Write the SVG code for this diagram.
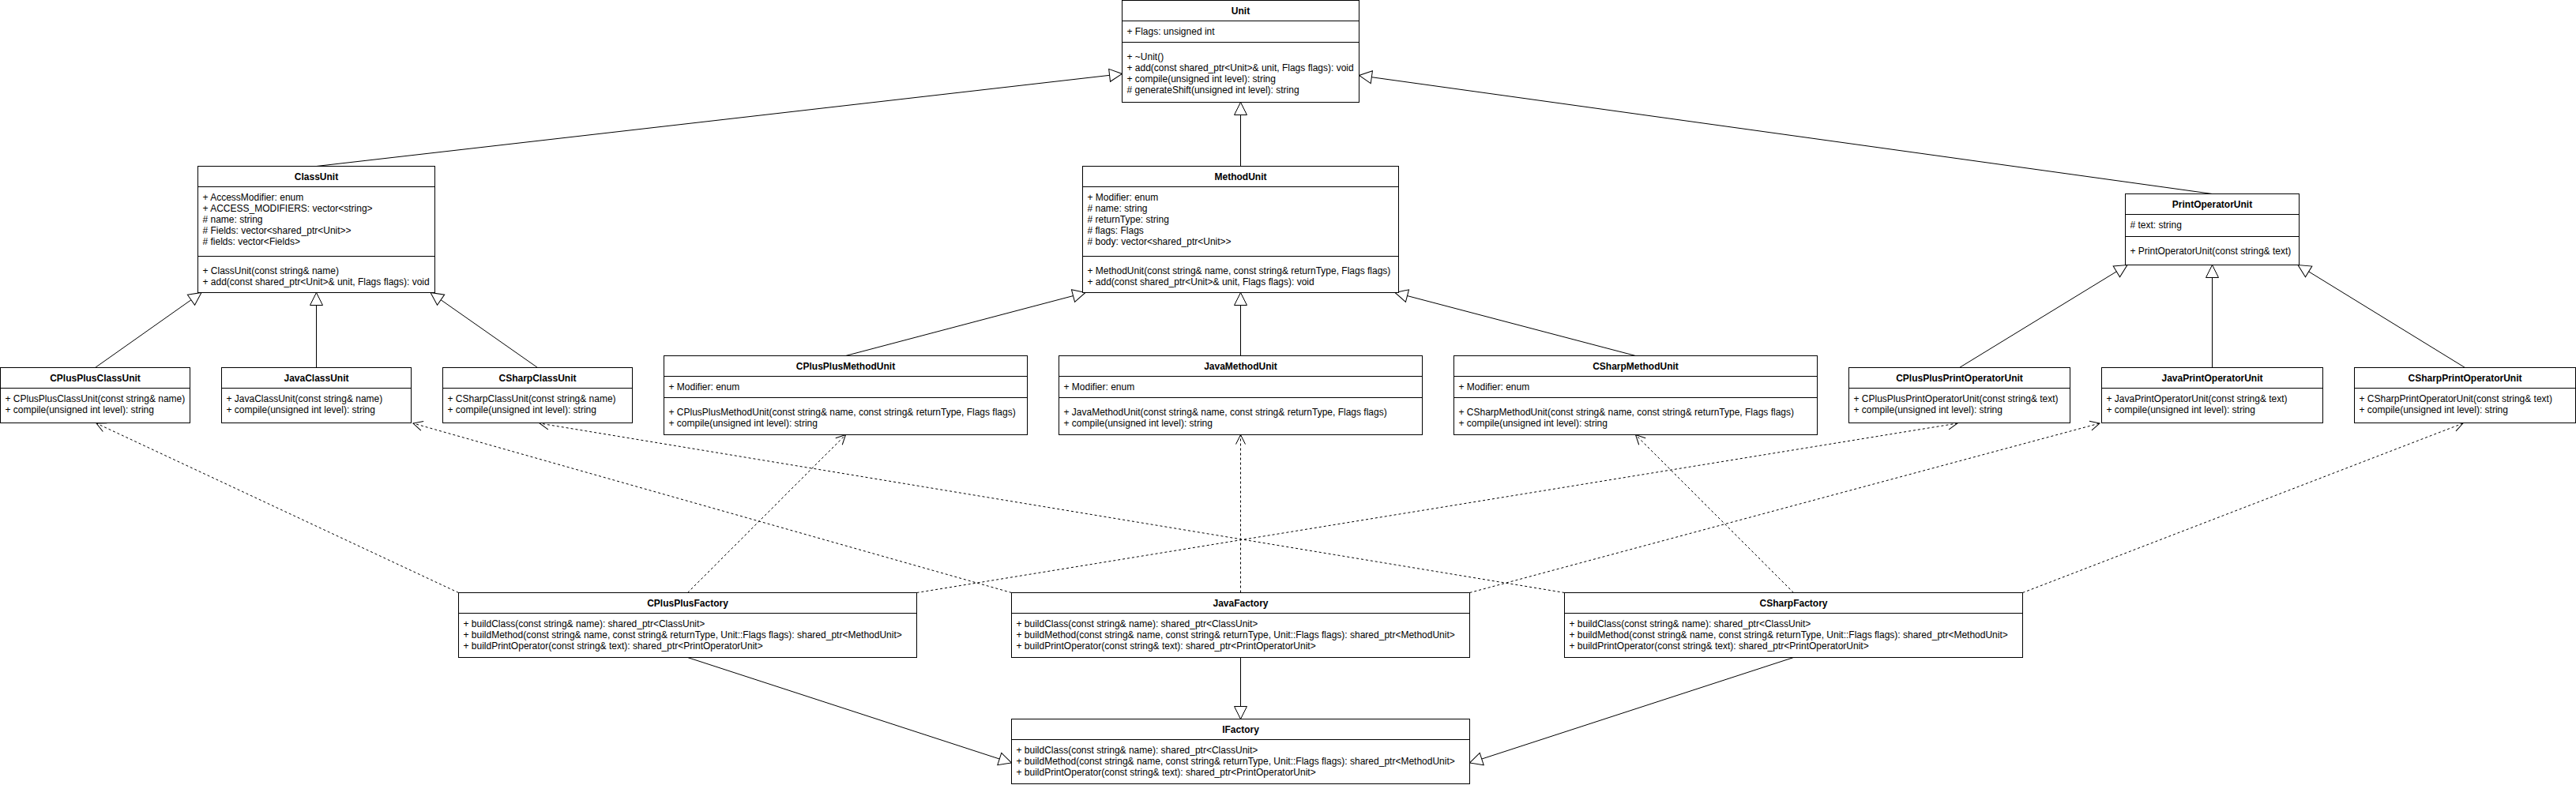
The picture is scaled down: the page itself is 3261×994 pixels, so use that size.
<svg xmlns="http://www.w3.org/2000/svg" width="3261" height="994" viewBox="0 0 3261 994">
<style>
.bg{fill:#ffffff}
.node rect{fill:#ffffff;stroke:#000000;stroke-width:1}
.node line{stroke:#000000;stroke-width:1}
.node text{font-family:"Liberation Sans",Arial,Helvetica,sans-serif;font-size:12px;fill:#000000}
.node text.title{font-weight:bold;text-anchor:middle}
.inh{fill:none;stroke:#000000;stroke-width:1;marker-end:url(#tri)}
.dep{fill:none;stroke:#000000;stroke-width:1;stroke-dasharray:3 3;marker-end:url(#open)}
</style>
<defs>
<marker id="tri" markerUnits="userSpaceOnUse" markerWidth="20" markerHeight="20" refX="16" refY="8" orient="auto" overflow="visible">
<path d="M0,0 L16,8 L0,16 Z" fill="#ffffff" stroke="#000000" stroke-width="1"/>
</marker>
<marker id="open" markerUnits="userSpaceOnUse" markerWidth="14" markerHeight="14" refX="12" refY="6" orient="auto" overflow="visible">
<path d="M0,0 L12,6 L0,12" fill="none" stroke="#000000" stroke-width="1" stroke-dasharray="none"/>
</marker>
</defs>
<rect class="bg" x="0" y="0" width="3261" height="994"/>

<g id="connectors">
<!-- inheritance to Unit -->
<path class="inh" d="M400.5,210.5 L1420.5,93.5"/>
<path class="inh" d="M1570.5,210.5 L1570.5,129.5"/>
<path class="inh" d="M2800.5,245.5 L1720.5,95.5"/>
<!-- to ClassUnit -->
<path class="inh" d="M120.5,465.5 L255,370.5"/>
<path class="inh" d="M400.5,465.5 L400.5,370.5"/>
<path class="inh" d="M680.5,465.5 L545,370.5"/>
<!-- to MethodUnit -->
<path class="inh" d="M1070.5,450.5 L1374,370.5"/>
<path class="inh" d="M1570.5,450.5 L1570.5,370.5"/>
<path class="inh" d="M2070.5,450.5 L1766,370.5"/>
<!-- to PrintOperatorUnit -->
<path class="inh" d="M2480.5,465.5 L2693,335.5"/>
<path class="inh" d="M2800.5,465.5 L2800.5,335.5"/>
<path class="inh" d="M3120.5,465.5 L2909,335.5"/>
<!-- to IFactory -->
<path class="inh" d="M870.5,832.5 L1280.5,966"/>
<path class="inh" d="M1570.5,832.5 L1570.5,910.5"/>
<path class="inh" d="M2270.5,832.5 L1860.5,966"/>
<!-- dependencies -->
<path class="dep" d="M580.5,750.5 L122,536"/>
<path class="dep" d="M870.5,750.5 L1070.5,550.5"/>
<path class="dep" d="M1160.5,750.5 L2478,536"/>
<path class="dep" d="M1280.5,750.5 L523,536"/>
<path class="dep" d="M1570.5,750.5 L1570.5,550.5"/>
<path class="dep" d="M1860.5,750.5 L2658,536"/>
<path class="dep" d="M1980.5,750.5 L683,536"/>
<path class="dep" d="M2270.5,750.5 L2070.5,550.5"/>
<path class="dep" d="M2560.5,750.5 L3118,536"/>
</g>

<g id="Unit" class="node">
<rect x="1420.5" y="0.5" width="300" height="129"/>
<line x1="1420.5" y1="26.5" x2="1720.5" y2="26.5"/>
<line x1="1420.5" y1="53.5" x2="1720.5" y2="53.5"/>
<text class="title" x="1570.5" y="18">Unit</text>
<text x="1426.5" y="44">+ Flags: unsigned int</text>
<text x="1426.5" y="76">+ ~Unit()</text>
<text x="1426.5" y="90">+ add(const shared_ptr&lt;Unit&gt;&amp; unit, Flags flags): void</text>
<text x="1426.5" y="104">+ compile(unsigned int level): string</text>
<text x="1426.5" y="118"># generateShift(unsigned int level): string</text>
</g>

<g id="ClassUnit" class="node">
<rect x="250.5" y="210.5" width="300" height="160"/>
<line x1="250.5" y1="236.5" x2="550.5" y2="236.5"/>
<line x1="250.5" y1="324.5" x2="550.5" y2="324.5"/>
<text class="title" x="400.5" y="228">ClassUnit</text>
<text x="256.5" y="254">+ AccessModifier: enum</text>
<text x="256.5" y="268">+ ACCESS_MODIFIERS: vector&lt;string&gt;</text>
<text x="256.5" y="282"># name: string</text>
<text x="256.5" y="296"># Fields: vector&lt;shared_ptr&lt;Unit&gt;&gt;</text>
<text x="256.5" y="310"># fields: vector&lt;Fields&gt;</text>
<text x="256.5" y="347">+ ClassUnit(const string&amp; name)</text>
<text x="256.5" y="361">+ add(const shared_ptr&lt;Unit&gt;&amp; unit, Flags flags): void</text>
</g>

<g id="MethodUnit" class="node">
<rect x="1370.5" y="210.5" width="400" height="160"/>
<line x1="1370.5" y1="236.5" x2="1770.5" y2="236.5"/>
<line x1="1370.5" y1="324.5" x2="1770.5" y2="324.5"/>
<text class="title" x="1570.5" y="228">MethodUnit</text>
<text x="1376.5" y="254">+ Modifier: enum</text>
<text x="1376.5" y="268"># name: string</text>
<text x="1376.5" y="282"># returnType: string</text>
<text x="1376.5" y="296"># flags: Flags</text>
<text x="1376.5" y="310"># body: vector&lt;shared_ptr&lt;Unit&gt;&gt;</text>
<text x="1376.5" y="347">+ MethodUnit(const string&amp; name, const string&amp; returnType, Flags flags)</text>
<text x="1376.5" y="361">+ add(const shared_ptr&lt;Unit&gt;&amp; unit, Flags flags): void</text>
</g>

<g id="PrintOperatorUnit" class="node">
<rect x="2690.5" y="245.5" width="220" height="90"/>
<line x1="2690.5" y1="271.5" x2="2910.5" y2="271.5"/>
<line x1="2690.5" y1="299.5" x2="2910.5" y2="299.5"/>
<text class="title" x="2800.5" y="263">PrintOperatorUnit</text>
<text x="2696.5" y="289"># text: string</text>
<text x="2696.5" y="322">+ PrintOperatorUnit(const string&amp; text)</text>
</g>

<g id="CPlusPlusClassUnit" class="node">
<rect x="0.5" y="465.5" width="240" height="70"/>
<line x1="0.5" y1="491.5" x2="240.5" y2="491.5"/>
<text class="title" x="120.5" y="483">CPlusPlusClassUnit</text>
<text x="6.5" y="509">+ CPlusPlusClassUnit(const string&amp; name)</text>
<text x="6.5" y="523">+ compile(unsigned int level): string</text>
</g>

<g id="JavaClassUnit" class="node">
<rect x="280.5" y="465.5" width="240" height="70"/>
<line x1="280.5" y1="491.5" x2="520.5" y2="491.5"/>
<text class="title" x="400.5" y="483">JavaClassUnit</text>
<text x="286.5" y="509">+ JavaClassUnit(const string&amp; name)</text>
<text x="286.5" y="523">+ compile(unsigned int level): string</text>
</g>

<g id="CSharpClassUnit" class="node">
<rect x="560.5" y="465.5" width="240" height="70"/>
<line x1="560.5" y1="491.5" x2="800.5" y2="491.5"/>
<text class="title" x="680.5" y="483">CSharpClassUnit</text>
<text x="566.5" y="509">+ CSharpClassUnit(const string&amp; name)</text>
<text x="566.5" y="523">+ compile(unsigned int level): string</text>
</g>

<g id="CPlusPlusMethodUnit" class="node">
<rect x="840.5" y="450.5" width="460" height="100"/>
<line x1="840.5" y1="476.5" x2="1300.5" y2="476.5"/>
<line x1="840.5" y1="503.5" x2="1300.5" y2="503.5"/>
<text class="title" x="1070.5" y="468">CPlusPlusMethodUnit</text>
<text x="846.5" y="494">+ Modifier: enum</text>
<text x="846.5" y="526">+ CPlusPlusMethodUnit(const string&amp; name, const string&amp; returnType, Flags flags)</text>
<text x="846.5" y="540">+ compile(unsigned int level): string</text>
</g>

<g id="JavaMethodUnit" class="node">
<rect x="1340.5" y="450.5" width="460" height="100"/>
<line x1="1340.5" y1="476.5" x2="1800.5" y2="476.5"/>
<line x1="1340.5" y1="503.5" x2="1800.5" y2="503.5"/>
<text class="title" x="1570.5" y="468">JavaMethodUnit</text>
<text x="1346.5" y="494">+ Modifier: enum</text>
<text x="1346.5" y="526">+ JavaMethodUnit(const string&amp; name, const string&amp; returnType, Flags flags)</text>
<text x="1346.5" y="540">+ compile(unsigned int level): string</text>
</g>

<g id="CSharpMethodUnit" class="node">
<rect x="1840.5" y="450.5" width="460" height="100"/>
<line x1="1840.5" y1="476.5" x2="2300.5" y2="476.5"/>
<line x1="1840.5" y1="503.5" x2="2300.5" y2="503.5"/>
<text class="title" x="2070.5" y="468">CSharpMethodUnit</text>
<text x="1846.5" y="494">+ Modifier: enum</text>
<text x="1846.5" y="526">+ CSharpMethodUnit(const string&amp; name, const string&amp; returnType, Flags flags)</text>
<text x="1846.5" y="540">+ compile(unsigned int level): string</text>
</g>

<g id="CPlusPlusPrintOperatorUnit" class="node">
<rect x="2340.5" y="465.5" width="280" height="70"/>
<line x1="2340.5" y1="491.5" x2="2620.5" y2="491.5"/>
<text class="title" x="2480.5" y="483">CPlusPlusPrintOperatorUnit</text>
<text x="2346.5" y="509">+ CPlusPlusPrintOperatorUnit(const string&amp; text)</text>
<text x="2346.5" y="523">+ compile(unsigned int level): string</text>
</g>

<g id="JavaPrintOperatorUnit" class="node">
<rect x="2660.5" y="465.5" width="280" height="70"/>
<line x1="2660.5" y1="491.5" x2="2940.5" y2="491.5"/>
<text class="title" x="2800.5" y="483">JavaPrintOperatorUnit</text>
<text x="2666.5" y="509">+ JavaPrintOperatorUnit(const string&amp; text)</text>
<text x="2666.5" y="523">+ compile(unsigned int level): string</text>
</g>

<g id="CSharpPrintOperatorUnit" class="node">
<rect x="2980.5" y="465.5" width="280" height="70"/>
<line x1="2980.5" y1="491.5" x2="3260.5" y2="491.5"/>
<text class="title" x="3120.5" y="483">CSharpPrintOperatorUnit</text>
<text x="2986.5" y="509">+ CSharpPrintOperatorUnit(const string&amp; text)</text>
<text x="2986.5" y="523">+ compile(unsigned int level): string</text>
</g>

<g id="CPlusPlusFactory" class="node">
<rect x="580.5" y="750.5" width="580" height="82"/>
<line x1="580.5" y1="776.5" x2="1160.5" y2="776.5"/>
<text class="title" x="870.5" y="768">CPlusPlusFactory</text>
<text x="586.5" y="794">+ buildClass(const string&amp; name): shared_ptr&lt;ClassUnit&gt;</text>
<text x="586.5" y="808">+ buildMethod(const string&amp; name, const string&amp; returnType, Unit::Flags flags): shared_ptr&lt;MethodUnit&gt;</text>
<text x="586.5" y="822">+ buildPrintOperator(const string&amp; text): shared_ptr&lt;PrintOperatorUnit&gt;</text>
</g>

<g id="JavaFactory" class="node">
<rect x="1280.5" y="750.5" width="580" height="82"/>
<line x1="1280.5" y1="776.5" x2="1860.5" y2="776.5"/>
<text class="title" x="1570.5" y="768">JavaFactory</text>
<text x="1286.5" y="794">+ buildClass(const string&amp; name): shared_ptr&lt;ClassUnit&gt;</text>
<text x="1286.5" y="808">+ buildMethod(const string&amp; name, const string&amp; returnType, Unit::Flags flags): shared_ptr&lt;MethodUnit&gt;</text>
<text x="1286.5" y="822">+ buildPrintOperator(const string&amp; text): shared_ptr&lt;PrintOperatorUnit&gt;</text>
</g>

<g id="CSharpFactory" class="node">
<rect x="1980.5" y="750.5" width="580" height="82"/>
<line x1="1980.5" y1="776.5" x2="2560.5" y2="776.5"/>
<text class="title" x="2270.5" y="768">CSharpFactory</text>
<text x="1986.5" y="794">+ buildClass(const string&amp; name): shared_ptr&lt;ClassUnit&gt;</text>
<text x="1986.5" y="808">+ buildMethod(const string&amp; name, const string&amp; returnType, Unit::Flags flags): shared_ptr&lt;MethodUnit&gt;</text>
<text x="1986.5" y="822">+ buildPrintOperator(const string&amp; text): shared_ptr&lt;PrintOperatorUnit&gt;</text>
</g>

<g id="IFactory" class="node">
<rect x="1280.5" y="910.5" width="580" height="82"/>
<line x1="1280.5" y1="936.5" x2="1860.5" y2="936.5"/>
<text class="title" x="1570.5" y="928">IFactory</text>
<text x="1286.5" y="954">+ buildClass(const string&amp; name): shared_ptr&lt;ClassUnit&gt;</text>
<text x="1286.5" y="968">+ buildMethod(const string&amp; name, const string&amp; returnType, Unit::Flags flags): shared_ptr&lt;MethodUnit&gt;</text>
<text x="1286.5" y="982">+ buildPrintOperator(const string&amp; text): shared_ptr&lt;PrintOperatorUnit&gt;</text>
</g>
</svg>
